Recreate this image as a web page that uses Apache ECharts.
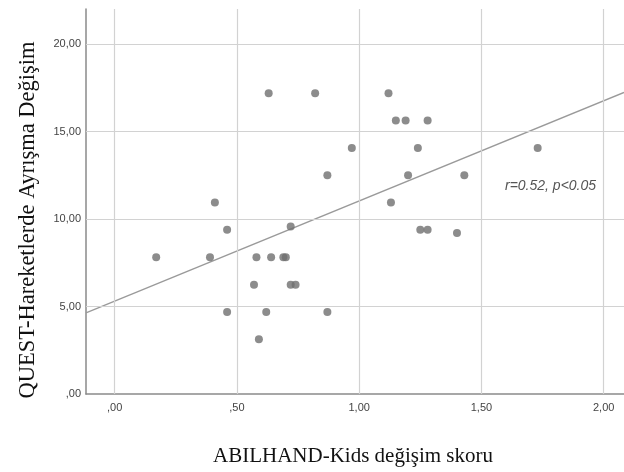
<!DOCTYPE html>
<html>
<head>
<meta charset="utf-8">
<script src="https://cdn.jsdelivr.net/npm/echarts@6/dist/echarts.min.js"></script>
<style>
  html, body { margin: 0; padding: 0; background: #fff; }
  #main { width: 624px; height: 472px; }
</style>
</head>
<body>
<div id="main"></div>
<script>
// ABILHAND-Kids change (x) vs QUEST change (y)
var abilhand = [0.17, 0.39, 0.41, 0.46, 0.46, 0.57, 0.58, 0.59, 0.62, 0.63, 0.64, 0.69, 0.70, 0.72, 0.72, 0.74,
                0.82, 0.87, 0.87, 0.97, 1.12, 1.13, 1.15, 1.19, 1.20, 1.24, 1.25, 1.28, 1.28, 1.40, 1.43, 1.73];
var quest = [7.81, 7.81, 10.94, 9.38, 4.69, 6.25, 7.81, 3.13, 4.69, 17.19, 7.81, 7.81, 7.81, 9.57, 6.25, 6.25,
             17.19, 12.5, 4.69, 14.06, 17.19, 10.94, 15.63, 15.63, 12.5, 14.06, 9.38, 9.38, 15.63, 9.2, 12.5, 14.06];
// fit line end points
var fitX = [-0.117, 2.083];
var fitY = [4.64, 17.23];
var xTicks = [0, 0.5, 1, 1.5, 2];
var yTicks = [0, 5, 10, 15, 20];

var points = abilhand.map(function (v, i) { return [v, quest[i]]; });
var fitLine = fitX.map(function (v, i) { return [v, fitY[i]]; });

function fmt(v) {
  var s = v.toFixed(2).replace('.', ',');
  if (s.indexOf('0,') === 0) s = s.substring(1);
  return s;
}

var myChart = echarts.init(document.getElementById('main'));
var option = {
  animation: false,
  grid: { left: 86, right: 0, top: 9, bottom: 78 },
  xAxis: {
    type: 'value',
    min: -0.117,
    max: 2.083,
    axisLine: { show: true, onZero: false, lineStyle: { color: '#8a8a8a', width: 1.5 } },
    axisTick: { show: false },
    splitLine: { show: false },
    axisLabel: {
      color: '#444', fontSize: 11, fontFamily: 'Liberation Sans', margin: 8,
      showMinLabel: false, showMaxLabel: false,
      formatter: function (v) { return xTicks.indexOf(Math.round(v * 100) / 100) >= 0 ? fmt(v) : ''; }
    }
  },
  yAxis: {
    type: 'value',
    min: 0,
    max: 22,
    axisLine: { show: true, onZero: false, lineStyle: { color: '#8a8a8a', width: 1.5 } },
    axisTick: { show: false },
    splitLine: { show: false },
    axisLabel: {
      color: '#444', fontSize: 11, fontFamily: 'Liberation Sans', margin: 5,
      showMaxLabel: false,
      formatter: function (v) { return yTicks.indexOf(v) >= 0 ? fmt(v) : ''; }
    }
  },
  graphic: [
    {
      type: 'text', left: 505, top: 179,
      style: { text: 'r=0.52, p<0.05', fontSize: 14, fontStyle: 'italic', fontFamily: 'Liberation Sans', fill: '#555' }
    },
    {
      type: 'text', x: 353, y: 456,
      style: { text: 'ABILHAND-Kids değişim skoru', fontSize: 21, fontFamily: 'Liberation Serif', fill: '#111',
               align: 'center', verticalAlign: 'middle' }
    },
    {
      type: 'text', x: 28, y: 220, rotation: Math.PI / 2,
      style: { text: 'QUEST-Hareketlerde Ayrışma Değişim', fontSize: 22.5, fontFamily: 'Liberation Serif', fill: '#111',
               align: 'center', verticalAlign: 'middle' }
    }
  ],
  series: [
    {
      type: 'line',
      data: [],
      silent: true,
      markLine: {
        symbol: 'none',
        silent: true,
        label: { show: false },
        lineStyle: { color: '#d2d2d2', width: 1.2, type: 'solid' },
        data: xTicks.map(function (v) { return { xAxis: v }; })
          .concat(yTicks.slice(1).map(function (v) { return { yAxis: v }; }))
      }
    },
    {
      type: 'line',
      data: fitLine,
      symbol: 'none',
      lineStyle: { color: '#9a9a9a', width: 1.3 },
      z: 3
    },
    {
      type: 'scatter',
      data: points,
      symbolSize: 8,
      itemStyle: { color: '#6f6f6f' },
      z: 4
    }
  ]
};
myChart.setOption(option);
</script>
</body>
</html>
